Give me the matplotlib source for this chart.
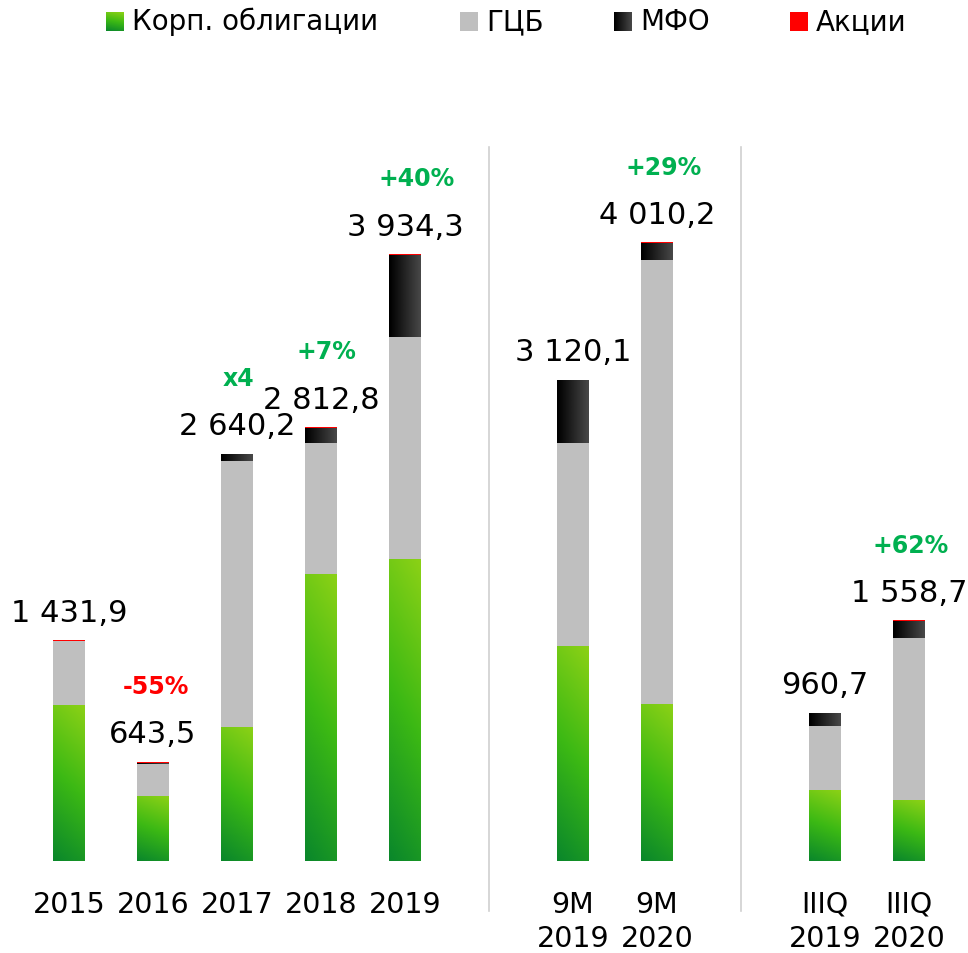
import numpy as np
import matplotlib.pyplot as plt
from matplotlib.colors import LinearSegmentedColormap

# data (млрд руб.)
cats = ["2015", "2016", "2017", "2018", "2019", "9M\n2019", "9M\n2020", "IIIQ\n2019", "IIIQ\n2020"]
xpos = [0, 1, 2, 3, 4, 6, 7, 9, 10]
corp = [1010, 421, 862, 1860, 1951, 1393, 1017, 454, 395]
gcb = [419, 207, 1730, 849, 1445, 1316, 2878, 421, 1050]
mfo = [0, 5, 45, 97, 531, 408, 110, 84, 104]
akcii = [3, 10, 3, 7, 7, 3, 5, 2, 10]
totals = ["1 431,9", "643,5", "2 640,2", "2 812,8", "3 934,3", "3 120,1", "4 010,2", "960,7", "1 558,7"]
growth = ["", "-55%", "x4", "+7%", "+40%", "", "+29%", "", "+62%"]
growth_red = [False, True, False, False, False, False, False, False, False]
growth_dx = [0, 3, 1, 5, 12, 0, 7, 0, 2]  # px shift of the growth labels
dividers = [5, 8]
legend_names = ["Корп. облигации", "ГЦБ", "МФО", "Акции"]

W, H = 968, 954
fig = plt.figure(figsize=(W / 100, H / 100), dpi=100)
ax = fig.add_axes([0, 0, 1, 1])
ax.axis("off")

# layout in pixels: first bar centre, slot width, baseline, px per unit
x0, slot, base, scale = 69, 84, 862, 0.1543
xlim = (-x0 / slot, (W - x0) / slot)
ylim = (-(H - base) / scale, base / scale)


def px(x, y):
    return (x - x0) / slot, (base - y) / scale


green_cm = LinearSegmentedColormap.from_list("g", ["#0a872b", "#3cb914", "#8bd116"])
black_cm = LinearSegmentedColormap.from_list("k", ["#000000", "#474747"])
GREY, RED = "#bfbfbf", "#ff0000"
GREEN_TXT = "#00b050"

yy, xx = np.mgrid[1:0:100j, 0:1:20j]
green_img = green_cm(np.clip(0.85 * yy + 0.15 * xx, 0, 1))
black_img = black_cm(np.tile(np.linspace(0, 1, 20), (10, 1)))

width = 0.37
corp, gcb, mfo, akcii = map(np.array, (corp, gcb, mfo, akcii))
b1 = corp
b2 = corp + gcb
b3 = b2 + mfo
tops = b3 + akcii

bars_g = ax.bar(xpos, corp, width, color="#3cb914", zorder=2)
ax.bar(xpos, gcb, width, bottom=b1, color=GREY, zorder=2)
bars_m = ax.bar(xpos, mfo, width, bottom=b2, color="#222222", zorder=2)
ax.bar(xpos, akcii, width, bottom=b3, color=RED, zorder=2)

for bars, img in ((bars_g, green_img), (bars_m, black_img)):
    for p in bars:
        if p.get_height() <= 0:
            continue
        l, b = p.get_x(), p.get_y()
        ax.imshow(img, extent=(l, l + p.get_width(), b, b + p.get_height()),
                  aspect="auto", interpolation="bilinear", zorder=3)

for x, t, lab, g, red, dx in zip(xpos, tops, totals, growth, growth_red, growth_dx):
    ax.annotate(lab, (x, t), xytext=(0, 14), textcoords="offset points",
                ha="center", va="baseline", fontsize=22, color="black")
    if g:
        ax.annotate(g, (x, t), xytext=(dx * 0.72, 49.5), textcoords="offset points",
                    ha="center", va="baseline", fontsize=17, fontweight="bold",
                    color=RED if red else GREEN_TXT)

# category labels
for x, c in zip(xpos, cats):
    ax.text(x, px(0, 891)[1], c, ha="center", va="top", fontsize=20.5, linespacing=1.27)

# separators
for d in dividers:
    ax.plot([d, d], [px(0, 148)[1], px(0, 912)[1]], color="#d0d0d0", lw=1.2, zorder=1)

# legend
leg_x = [106, 460, 614, 790]
for i, (lx, name) in enumerate(zip(leg_x, legend_names)):
    xa, ya = px(lx, 32)
    xb, yb = px(lx + 18, 13)
    if i == 0:
        ax.imshow(green_img, extent=(xa, xb, ya, yb), aspect="auto", zorder=3)
    elif i == 2:
        ax.imshow(black_img, extent=(xa, xb, ya, yb), aspect="auto", zorder=3)
    else:
        ax.fill_between([xa, xb], ya, yb, color=GREY if i == 1 else RED, lw=0)
    tx, ty = px(lx + 26, 22)
    ax.text(tx, ty, name, ha="left", va="center", fontsize=20)

ax.set_xlim(*xlim)
ax.set_ylim(*ylim)
fig.savefig("out.png", dpi=100)
